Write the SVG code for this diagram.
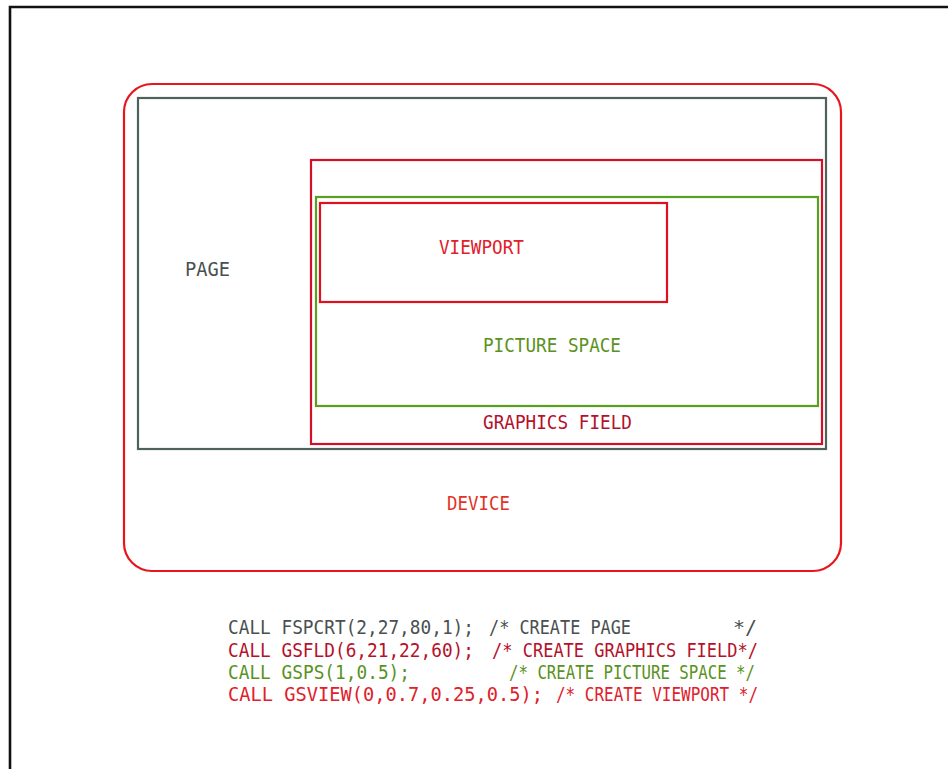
<svg xmlns="http://www.w3.org/2000/svg" width="948" height="769" viewBox="0 0 948 769">
<style>
text{font-family:"DejaVu Sans Mono","Liberation Mono",monospace;font-size:19px}
.box{fill:none;stroke-width:2.2}
.gray{fill:#4a504f}
.dred{fill:#b5112b}
.green{fill:#5a9222}
.red{fill:#e0202a}
.ored{fill:#e3321f}
</style>
<rect width="948" height="769" fill="#ffffff"/>
<g id="frame">
<path d="M10,769 V7 H948" fill="none" stroke="#111111" stroke-width="2.6"/>
</g>
<g id="device">
<rect class="box" x="124" y="84" width="717" height="487" rx="28" ry="28" stroke="#e8161c"/>
<text class="ored" x="447" y="510" textLength="63" lengthAdjust="spacingAndGlyphs">DEVICE</text>
</g>
<g id="page">
<rect class="box" x="138" y="98" width="688" height="351" stroke="#4f605d"/>
<text class="gray" x="185" y="276" textLength="45" lengthAdjust="spacingAndGlyphs">PAGE</text>
</g>
<g id="graphics-field">
<rect class="box" x="311" y="160" width="511" height="284" stroke="#d3102a"/>
<text class="dred" x="483" y="429" textLength="149" lengthAdjust="spacingAndGlyphs">GRAPHICS FIELD</text>
</g>
<g id="picture-space">
<rect class="box" x="316" y="197" width="502" height="209" stroke="#5aa020"/>
<text class="green" x="483" y="352" textLength="138" lengthAdjust="spacingAndGlyphs">PICTURE SPACE</text>
</g>
<g id="viewport">
<rect class="box" x="320" y="203" width="347" height="99" stroke="#e0101e"/>
<text class="red" x="439" y="254" textLength="85" lengthAdjust="spacingAndGlyphs">VIEWPORT</text>
</g>
<g id="connectors"></g>
<g id="code">
<text class="gray" y="634"><tspan x="228" textLength="246" lengthAdjust="spacingAndGlyphs">CALL FSPCRT(2,27,80,1);</tspan><tspan x="489" textLength="142" lengthAdjust="spacingAndGlyphs">/* CREATE PAGE</tspan><tspan x="733" textLength="24" lengthAdjust="spacingAndGlyphs">*/</tspan></text>
<text class="dred" y="656.5"><tspan x="228" textLength="246" lengthAdjust="spacingAndGlyphs">CALL GSFLD(6,21,22,60);</tspan><tspan x="492" textLength="266" lengthAdjust="spacingAndGlyphs">/* CREATE GRAPHICS FIELD*/</tspan></text>
<text class="green" y="679"><tspan x="228" textLength="182" lengthAdjust="spacingAndGlyphs">CALL GSPS(1,0.5);</tspan><tspan x="509" textLength="246" lengthAdjust="spacingAndGlyphs">/* CREATE PICTURE SPACE */</tspan></text>
<text class="red" y="701"><tspan x="228" textLength="315" lengthAdjust="spacingAndGlyphs">CALL GSVIEW(0,0.7,0.25,0.5);</tspan><tspan x="556" textLength="202" lengthAdjust="spacingAndGlyphs">/* CREATE VIEWPORT */</tspan></text>
</g>
</svg>
